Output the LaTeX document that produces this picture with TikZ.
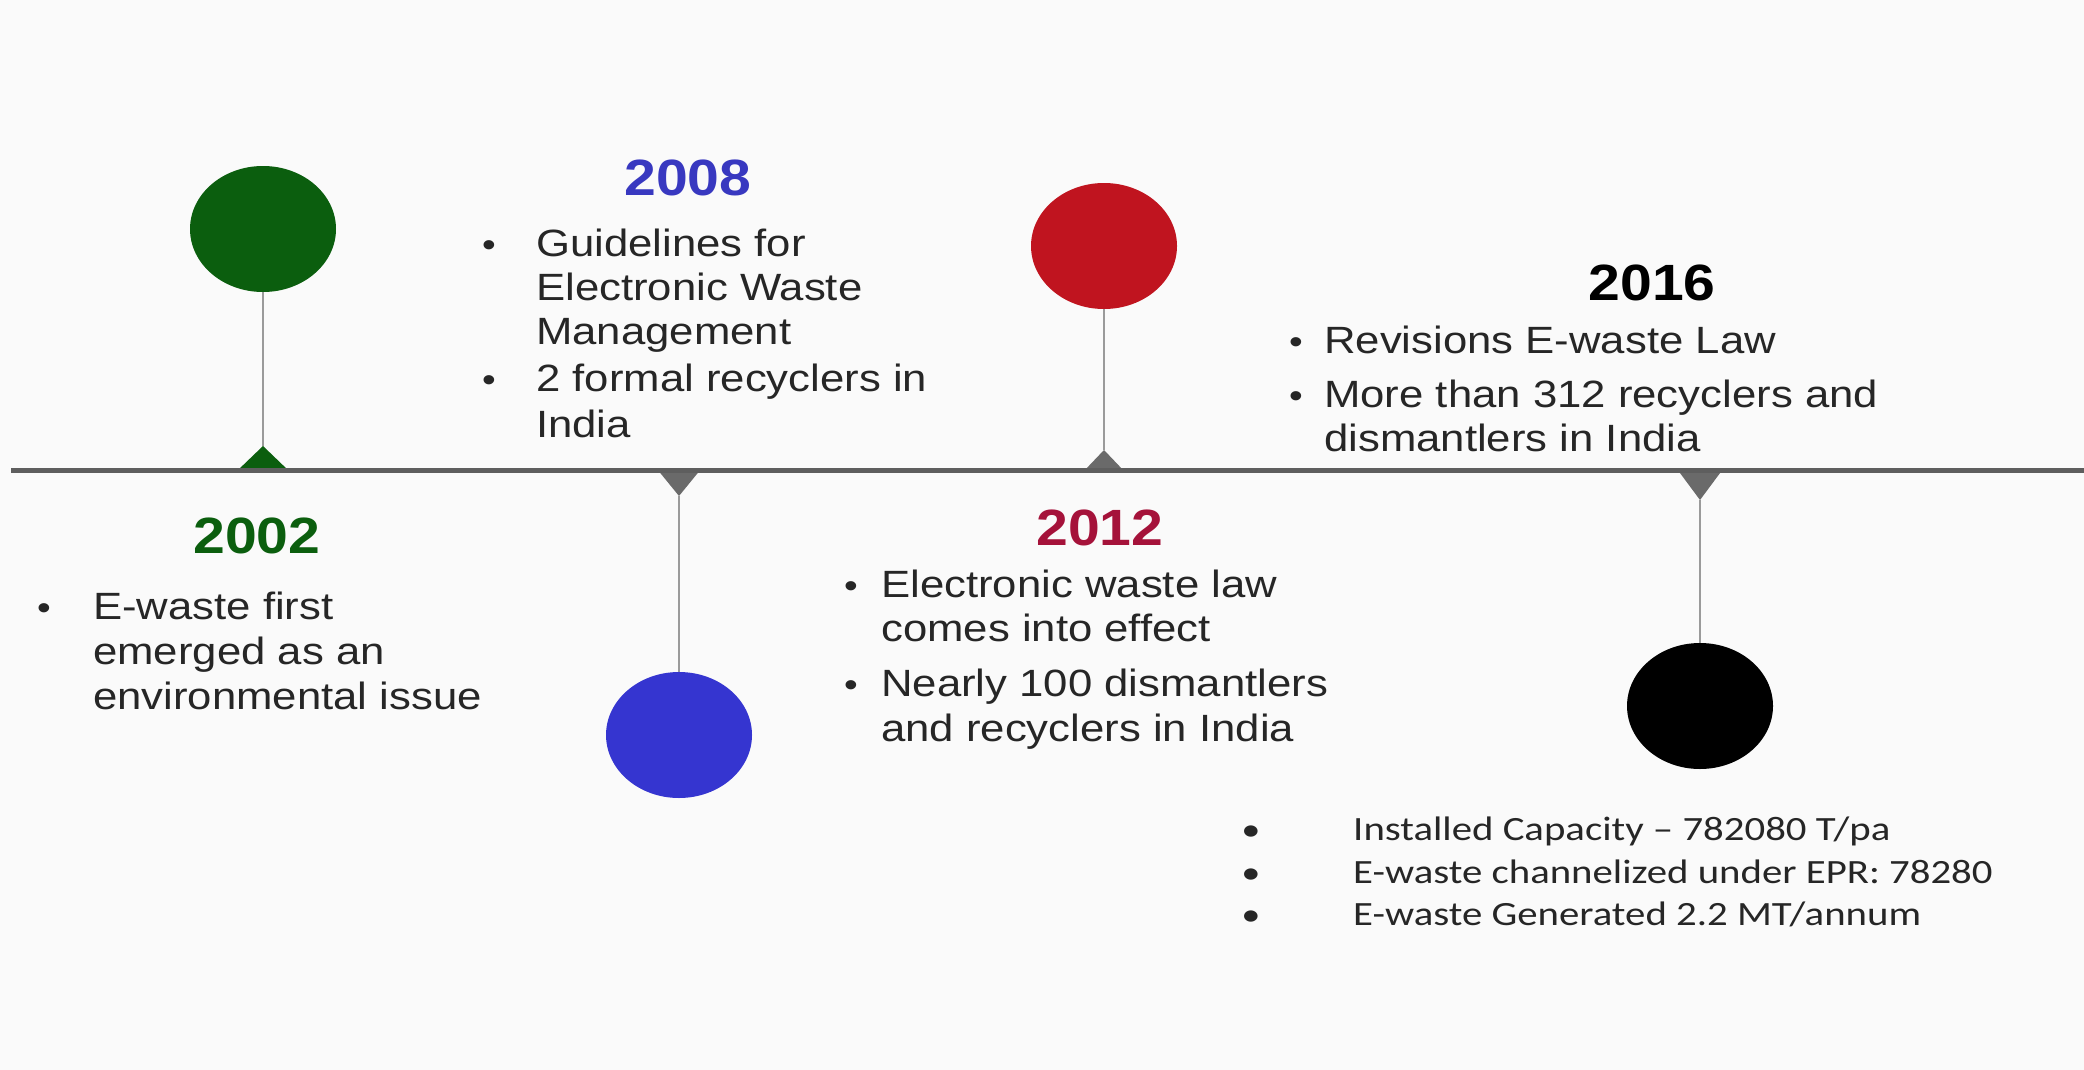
\documentclass[tikz,border=0pt]{standalone}
\usepackage{fontspec}
\usetikzlibrary{shapes.geometric}
\newfontfamily\bodyfont{Liberation Sans}[FakeStretch=1.15]
\newfontfamily\yearfontfam{Liberation Sans}[FakeStretch=1.12]
\newfontfamily\calfont{Carlito}[FakeStretch=1.2]
\definecolor{bg}{HTML}{FAFAFA}
\definecolor{grn}{HTML}{0B5E0E}
\definecolor{blu}{HTML}{3535D0}
\definecolor{blutxt}{HTML}{3838C0}
\definecolor{red1}{HTML}{C0141F}
\definecolor{redtxt}{HTML}{A5123A}
\definecolor{txt}{HTML}{262626}
\definecolor{axis}{HTML}{5E5E5E}
\definecolor{stemc}{HTML}{9A9A9A}
\definecolor{tri}{HTML}{6A6A6A}
\tikzset{
  yr/.style={font={\yearfontfam\bfseries\fontsize{51}{60}\selectfont}, anchor=base, inner sep=0pt},
  ln/.style={font={\bodyfont\fontsize{38}{45}\selectfont}, anchor=base west, inner sep=0pt, text=txt},
  bul/.style={font={\bodyfont\fontsize{34}{45}\selectfont}, anchor=base, inner sep=0pt, text=txt},
  sm/.style={font={\calfont\fontsize{34}{40}\selectfont}, anchor=base west, inner sep=0pt, text=txt},
  smbul/.style={font={\calfont\fontsize{32}{40}\selectfont}, anchor=base, inner sep=0pt, text=txt},
  dotshape/.style={ellipse, minimum width=146pt, minimum height=126pt, inner sep=0pt},
  stemline/.style={draw=stemc, line width=2.8pt},
  timeline/.style={draw=axis, line width=5pt},
}
\begin{document}
\begin{tikzpicture}[x=1pt,y=-1pt]
\fill[bg] (0,0) rectangle (2084,1070);
\useasboundingbox (0,0) rectangle (2084,1070);

% circles
\node[dotshape, fill=grn] (c2002) at (263,229) {};
\node[dotshape, fill=blu] (c2008) at (679,735) {};
\node[dotshape, fill=red1] (c2012) at (1104,246) {};
\node[dotshape, fill=black] (c2016) at (1700,706) {};

% triangle apexes
\coordinate (a2002) at (263,446);
\coordinate (a2008) at (679,496);
\coordinate (a2012) at (1104,450);
\coordinate (a2016) at (1700,500);

% stems
\draw[stemline] (c2002.south) -- (a2002);
\draw[stemline] (a2008) -- (c2008.north);
\draw[stemline] (c2012.south) -- (a2012);
\draw[stemline] (a2016) -- (c2016.north);

% triangles
\fill[grn] (237,471) -- (a2002) -- (289,471) -- cycle;
\fill[tri] (657,469) -- (a2008) -- (701,469) -- cycle;
\fill[tri] (1084,471) -- (a2012) -- (1124,471) -- cycle;
\fill[tri] (1677,469) -- (a2016) -- (1723,469) -- cycle;

% timeline
\coordinate (tl0) at (11,470);
\coordinate (tl1) at (2084,470);
\draw[timeline] (tl0) -- (tl1);

% 2002
\node[yr, text=grn] (y2002) at (257,553) {2002};
\node[bul] (b2002a) at (44,619) {•};
\node[ln] (l2002a) at (93,619) {E-waste first};
\node[ln] (l2002b) at (93,664) {emerged as an};
\node[ln] (l2002c) at (93,709) {environmental issue};

% 2008
\node[yr, text=blutxt] (y2008) at (688,195) {2008};
\node[bul] (b2008a) at (489,256) {•};
\node[ln] (l2008a) at (536,256) {Guidelines for};
\node[ln] (l2008b) at (536,300) {Electronic Waste};
\node[ln] (l2008c) at (536,344) {Management};
\node[bul] (b2008b) at (489,391) {•};
\node[ln] (l2008d) at (536,391) {2 formal recyclers in};
\node[ln] (l2008e) at (536,437) {India};

% 2012
\node[yr, text=redtxt] (y2012) at (1100,545) {2012};
\node[bul] (b2012a) at (851,597) {•};
\node[ln] (l2012a) at (881,597) {Electronic waste law};
\node[ln] (l2012b) at (881,641) {comes into effect};
\node[bul] (b2012b) at (851,696) {•};
\node[ln] (l2012c) at (881,696) {Nearly 100 dismantlers};
\node[ln] (l2012d) at (881,741) {and recyclers in India};

% 2016
\node[yr, text=black] (y2016) at (1652,300) {2016};
\node[bul] (b2016a) at (1296,353) {•};
\node[ln] (l2016a) at (1324,353) {Revisions E-waste Law};
\node[bul] (b2016b) at (1296,407) {•};
\node[ln] (l2016b) at (1324,407) {More than 312 recyclers and};
\node[ln] (l2016c) at (1324,451) {dismantlers in India};

% bottom right
\node[smbul] (s1b) at (1251,840) {•};
\node[sm] (s1) at (1353,840) {Installed Capacity – 782080 T/pa};
\node[smbul] (s2b) at (1251,883) {•};
\node[sm] (s2) at (1353,883) {E-waste channelized under EPR: 78280};
\node[smbul] (s3b) at (1251,925) {•};
\node[sm] (s3) at (1353,925) {E-waste Generated 2.2 MT/annum};
\end{tikzpicture}
\end{document}
